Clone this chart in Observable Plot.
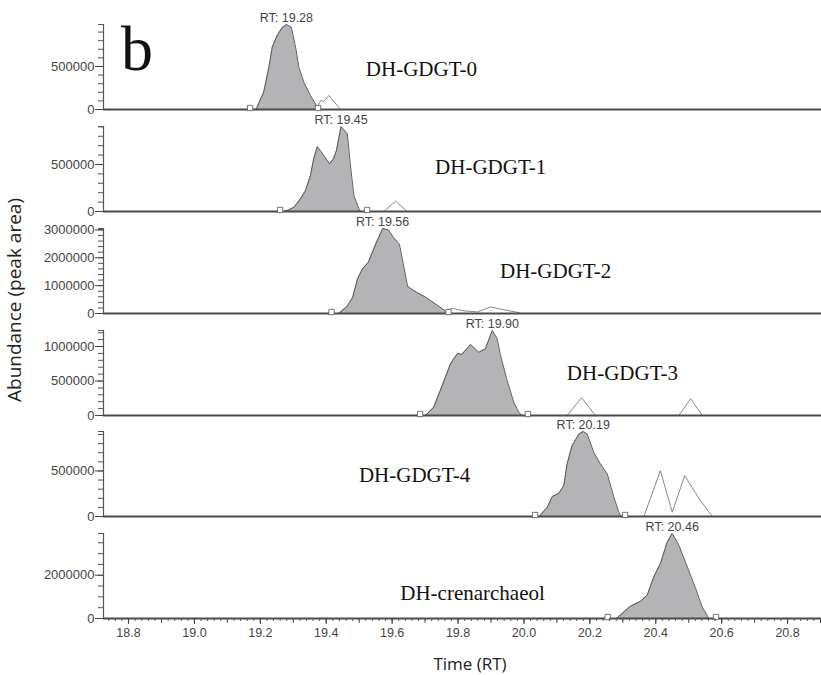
<!DOCTYPE html>
<html><head><meta charset="utf-8">
<script src="https://cdn.jsdelivr.net/npm/d3@7"></script>
<script src="https://cdn.jsdelivr.net/npm/@observablehq/plot@0.6"></script>
<style>
html,body{margin:0;padding:0;background:#fff;}
#chart{position:relative;width:821px;height:675px;overflow:hidden;background:#fff;}
#chart svg{position:absolute;left:0;}
.ttl{position:absolute;white-space:nowrap;color:#222;}
</style></head><body><div id="chart"></div>
<script>
// ---------- data ----------
const compounds = ["DH-GDGT-0","DH-GDGT-1","DH-GDGT-2","DH-GDGT-3","DH-GDGT-4","DH-crenarchaeol"];
const rtLabels = ["RT: 19.28","RT: 19.45","RT: 19.56","RT: 19.90","RT: 20.19","RT: 20.46"];
const xTickLabels = [18.8,19.0,19.2,19.4,19.6,19.8,20.0,20.2,20.4,20.6,20.8];
const yTickLabels = [[0,500000],[0,500000],[0,1000000,2000000,3000000],[0,500000,1000000],[0,500000],[0,2000000]];

// [time (RT), abundance]
const gdgt0Peak = [[19.182,0],[19.188,8000],[19.210,201000],[19.226,492000],[19.236,724000],[19.251,860000],[19.266,950000],[19.279,988000],[19.294,957000],[19.307,724000],[19.317,492000],[19.332,317000],[19.352,163000],[19.373,27000],[19.377,0]];
const gdgt0Minor = [[[19.373,23000],[19.383,105000],[19.392,93000],[19.408,163000],[19.443,0]]];
const gdgt0Marks = [19.169,19.375];

const gdgt1Peak = [[19.270,0],[19.285,15000],[19.302,46000],[19.322,135000],[19.337,223000],[19.352,383000],[19.362,561000],[19.373,691000],[19.392,600000],[19.410,507000],[19.422,560000],[19.431,649000],[19.445,904000],[19.464,826000],[19.474,472000],[19.484,170000],[19.499,29000],[19.504,0]];
const gdgt1Minor = [[[19.575,0],[19.610,110000],[19.646,0]]];
const gdgt1Marks = [19.260,19.524];

const gdgt2Peak = [[19.437,0],[19.462,235000],[19.480,569000],[19.495,1250000],[19.510,1600000],[19.528,1840000],[19.550,2490000],[19.571,3050000],[19.589,3000000],[19.604,2730000],[19.622,2490000],[19.647,970000],[19.674,760000],[19.701,590000],[19.738,290000],[19.759,117000],[19.768,0]];
const gdgt2Minor = [[[19.765,117000],[19.783,190000],[19.813,100000],[19.859,57000],[19.898,235000],[19.935,142000],[19.974,57000],[19.993,0]]];
const gdgt2Marks = [19.416,19.771];

const gdgt3Peak = [[19.700,0],[19.704,10000],[19.726,120000],[19.752,435000],[19.777,749000],[19.799,903000],[19.811,884000],[19.838,1029000],[19.863,917000],[19.883,967000],[19.904,1232000],[19.919,1110000],[19.929,870000],[19.949,507000],[19.969,193000],[19.984,48000],[19.995,0]];
const gdgt3Minor = [[[20.131,0],[20.175,257000],[20.217,0]],[[20.470,0],[20.506,242000],[20.541,0]]];
const gdgt3Marks = [19.685,20.012];

const gdgt4Peak = [[20.046,0],[20.071,102000],[20.086,219000],[20.106,255000],[20.121,339000],[20.131,577000],[20.146,777000],[20.167,905000],[20.180,933000],[20.192,905000],[20.212,703000],[20.232,577000],[20.253,467000],[20.273,211000],[20.288,47000],[20.295,0]];
const gdgt4Minor = [[[20.364,0],[20.414,503000],[20.450,47000],[20.488,449000],[20.516,284000],[20.536,175000],[20.571,0]]];
const gdgt4Marks = [20.034,20.307];

const crenPeak = [[20.281,0],[20.303,305000],[20.323,568000],[20.354,799000],[20.374,1076000],[20.394,1920000],[20.414,2540000],[20.435,3540000],[20.450,3930000],[20.470,3390000],[20.496,2380000],[20.521,1390000],[20.541,536000],[20.561,0]];
const crenMinor = [];
const crenMarks = [20.254,20.583];

// ---------- layout (pixels / positions, not data) ----------
const X_DOMAIN = [18.724, 20.903];
const layout = [
  {top:0,   baseline:109, axisTop:24,  minorStep:100000, label:[19.689,465000]},
  {top:110, baseline:211, axisTop:126, minorStep:100000, label:[19.899,468000]},
  {top:212, baseline:313, axisTop:228, minorStep:200000, label:[20.096,1505000]},
  {top:314, baseline:415, axisTop:330, minorStep:100000, label:[20.299,609000]},
  {top:417, baseline:516, axisTop:431, minorStep:100000, label:[19.668,449000]},
  {top:519, baseline:618, axisTop:533, minorStep:500000, label:[19.844,1169000]}
];
const panels = [
  {peak:gdgt0Peak, minor:gdgt0Minor, marks:gdgt0Marks},
  {peak:gdgt1Peak, minor:gdgt1Minor, marks:gdgt1Marks},
  {peak:gdgt2Peak, minor:gdgt2Minor, marks:gdgt2Marks},
  {peak:gdgt3Peak, minor:gdgt3Minor, marks:gdgt3Marks},
  {peak:gdgt4Peak, minor:gdgt4Minor, marks:gdgt4Marks},
  {peak:crenPeak,  minor:crenMinor,  marks:crenMarks}
];

const chart = document.getElementById("chart");
const SANS = "'Liberation Sans', Arial, sans-serif";
const SERIF = "'Liberation Serif', 'Times New Roman', serif";
const px = d => d[0], py = d => d[1];

panels.forEach((p, i) => {
  const L = layout[i];
  const last = i === panels.length - 1;
  const ymax = d3.max(p.peak, py);
  const apex = p.peak.find(d => d[1] === ymax);
  const mb = last ? 675 - L.baseline : 3;
  const height = L.baseline + mb - L.top;
  const minorTicks = d3.range(0, Math.round(ymax / L.minorStep) + 1).map(k => k * L.minorStep).filter(v => v <= ymax);
  minorTicks.push(ymax);
  const marks = [
    Plot.areaY(p.peak, {x: px, y: py, fill: "#b4b4b6"}),
    Plot.lineY(p.peak, {x: px, y: py, stroke: "#4d4d4d", strokeWidth: 0.9}),
    ...p.minor.map(tr => Plot.lineY(tr, {x: px, y: py, stroke: "#6a6a6a", strokeWidth: 0.8})),
    Plot.ruleY([0], {stroke: "#4a4a4a", strokeWidth: 2}),
    Plot.ruleX([X_DOMAIN[0]], {y1: 0, y2: ymax, stroke: "#555", strokeWidth: 1.2}),
    Plot.axisY(minorTicks, {tickSize: 5, tickFormat: () => "", label: null, color: "#555"}),
    Plot.axisY(yTickLabels[i], {tickSize: 8, tickPadding: 1, tickFormat: d3.format("d"), label: null, fontSize: 13, color: "#444"}),
    Plot.dot(p.marks.map(x => [x, 0]), {x: px, y: py, symbol: "square", r: 3, stroke: "#555", fill: "white", strokeWidth: 0.8, dy: -1.5}),
    Plot.text([apex], {x: px, y: py, text: () => rtLabels[i], lineAnchor: "bottom", dy: -3, fontSize: 12.5, fill: "#444"}),
    Plot.text([L.label], {x: px, y: py, text: () => compounds[i], fontFamily: SERIF, fontSize: 21, fill: "#111"})
  ];
  if (last) {
    marks.push(
      Plot.axisX(d3.range(937, 1046).map(k => k * 0.02), {tickSize: 3, tickFormat: () => "", label: null, color: "#555"}),
      Plot.axisX(d3.range(188, 210).map(k => k / 10), {tickSize: 5, tickFormat: () => "", label: null, color: "#555"}),
      Plot.axisX(xTickLabels, {tickSize: 6, tickPadding: 4, tickFormat: d3.format(".1f"), label: null, fontSize: 12.5, color: "#444"})
    );
  }
  const svg = Plot.plot({
    width: 821, height,
    marginLeft: 103, marginRight: 0, marginTop: L.axisTop - L.top, marginBottom: mb,
    x: {domain: X_DOMAIN, axis: null},
    y: {domain: [0, ymax], axis: null},
    style: {background: "none", overflow: "visible", fontFamily: SANS},
    marks
  });
  svg.style.top = L.top + "px";
  chart.append(svg);
});

function addTitle(text, css) {
  const d = document.createElement("div");
  d.className = "ttl";
  d.textContent = text;
  Object.assign(d.style, css);
  chart.append(d);
}
addTitle("Time (RT)", {left: "470px", top: "663px", transform: "translate(-50%,-50%)", fontFamily: "'Open Sans', sans-serif", fontSize: "17px"});
addTitle("Abundance (peak area)", {left: "14px", top: "300px", transform: "translate(-50%,-50%) rotate(-90deg)", fontFamily: "'Open Sans', sans-serif", fontSize: "19px"});
addTitle("b", {left: "121px", top: "17px", fontFamily: SERIF, fontSize: "64px", lineHeight: "64px", color: "#111"});
</script></body></html>
